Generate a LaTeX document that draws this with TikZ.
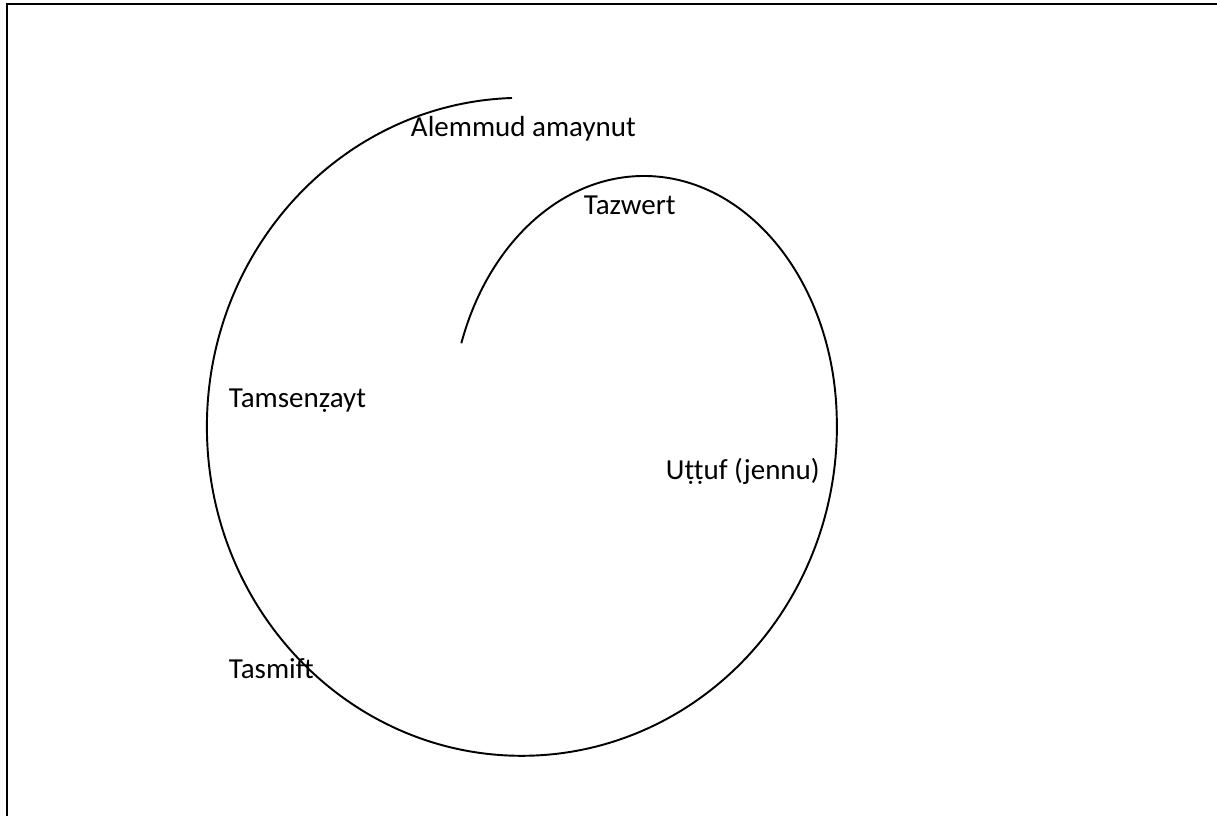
\documentclass[tikz,border=0pt]{standalone}
\usepackage{fontspec}
\setmainfont{Carlito}
\usetikzlibrary{%
  positioning,% wg. " of "
  calc%
}

\begin{document}
\begin{tikzpicture}[
  font=\fontsize{16.5}{20}\selectfont,
  line width=1.1pt,
  lbl/.style={anchor=base west,inner sep=0pt},
]
\useasboundingbox (0,0) rectangle (24.34,16.32);

% frame
\draw[line width=1pt] (24.34,16.24) -- (0.14,16.24) -- (0.14,0);

% spiral
\coordinate (sp0) at (10.24,14.36);
\draw (sp0) arc[start angle=91.8,end angle=362,x radius=6.3,y radius=6.58]
  arc[start angle=2,end angle=161,x radius=3.86,y radius=4.96];

\node[lbl] (tl0) at (8.20,13.58) {Alemmud amaynut};
\node[lbl] (tl1) at (11.66,12.02) {Tazwert};
\node[lbl] (tl2) at (4.56,8.16) {Tamsenẓayt};
\node[lbl] (tl3) at (13.30,6.72) {Uṭṭuf (jennu)};
\node[lbl] (tl4) at (4.56,2.74) {Tasmift};
\end{tikzpicture}
\end{document}
